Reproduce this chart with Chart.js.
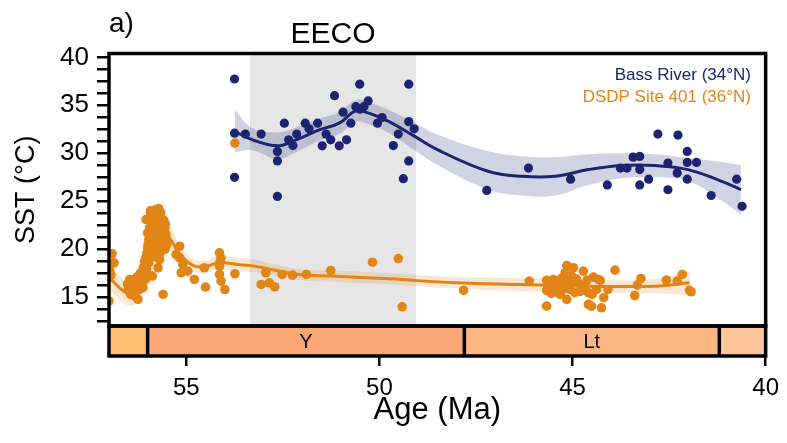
<!DOCTYPE html>
<html>
<head>
<meta charset="utf-8">
<script src="https://cdn.jsdelivr.net/npm/chart.js@4.4.1/dist/chart.umd.min.js"></script>
<style>
  html, body { margin: 0; padding: 0; background: #fff; }
  #wrap { width: 787px; height: 443px; }
</style>
</head>
<body>
<div id="wrap"><canvas id="myChart"></canvas></div>
<script>
// Bass River (34°N) samples
const basAge = [53.75, 53.75, 53.75, 53.47, 53.06, 52.64, 52.64, 52.64, 52.46, 52.35, 52.24, 52.14, 51.92, 51.82, 51.60,
  51.48, 51.38, 51.26, 51.16, 51.04, 50.94, 50.85, 50.74, 50.61, 50.51, 50.51, 50.40, 50.29, 50.05, 49.93, 49.64, 49.51,
  49.24, 49.24, 49.10, 49.24, 49.38, 47.22, 46.14, 45.05, 44.10, 43.76, 43.59, 43.43, 43.26, 43.26, 43.26, 43.03, 42.79,
  42.27, 42.53, 42.53, 42.29, 42.03, 42.03, 42.03, 41.79, 41.41, 40.75, 40.61];
const basSst = [37.74, 32.1, 27.5, 32.0, 32.0, 30.19, 29.2, 25.5, 33.14, 31.4, 30.8, 32.0, 33.14, 32.55, 33.14,
  30.78, 32.0, 31.4, 36.0, 30.78, 34.28, 31.4, 33.14, 34.86, 37.2, 34.6, 34.86, 35.46, 33.14, 33.72, 30.8, 32.0,
  37.2, 33.3, 32.55, 29.2, 27.35, 26.13, 28.46, 27.3, 26.7, 28.46, 28.46, 29.6, 29.67, 28.3, 26.7, 27.3, 32.0,
  31.9, 28.98, 26.2, 27.94, 30.19, 29.05, 27.3, 29.05, 25.6, 27.3, 24.47];

// DSDP Site 401 (36°N) samples
const dsdpAge = [57.0, 56.98, 56.92, 56.87, 56.95,
  56.52, 56.50, 56.48, 56.46, 56.44, 56.42, 56.40, 56.38, 56.36, 56.33, 56.30, 56.28, 56.27, 56.25, 56.24, 56.22,
  56.20, 56.19, 56.18, 56.16, 56.14, 56.12, 56.11, 56.10, 56.09,
  56.08, 56.07, 56.05, 56.03, 56.02, 56.00, 55.99, 55.97, 55.96, 55.95, 55.94, 55.93, 55.92, 55.91, 55.90, 55.89,
  55.88, 55.87, 55.86, 55.85, 55.84, 55.82, 55.81, 55.80, 55.79, 55.78, 55.77, 55.75, 55.74, 55.73, 55.73, 55.72,
  55.71, 55.70, 55.69, 55.68, 55.67, 55.66, 55.65, 55.65, 55.64, 55.62, 55.61, 55.60, 55.58, 55.56, 55.55, 55.53,
  55.52, 55.50, 55.60, 55.88, 55.97, 56.05, 55.80, 55.70, 56.00, 56.04, 55.93, 55.84, 55.76, 55.66, 55.58, 55.54,
  55.17, 55.17, 55.26, 55.09, 55.13, 54.96, 54.79, 54.53, 54.50, 54.14, 54.10, 54.14, 54.14, 54.10, 54.00, 54.12,
  53.74, 53.74, 53.06, 52.94, 52.85, 52.71, 52.52, 52.25, 51.89, 51.26, 50.18, 49.51, 49.41, 47.82, 46.12,
  45.67, 45.67, 45.67, 45.60, 45.55, 45.50, 45.45, 45.42, 45.37, 45.32, 45.28, 45.24, 45.20, 45.19, 45.15, 45.15,
  45.12, 45.06, 45.02, 44.98, 44.98, 44.94, 44.90, 44.85, 44.80, 44.72, 44.68, 44.62, 44.59, 44.59, 44.51, 44.49,
  44.46, 44.38, 44.33, 44.28, 44.25, 44.19, 44.08, 43.90, 43.39, 43.32, 43.23, 42.57, 42.29, 42.16, 41.97, 41.93];
const dsdpSst = [14.6, 17.8, 19.52, 18.58, 17.3,
  16.4, 15.9, 16.3, 16.85, 15.3, 15.63, 16.0, 16.7, 15.2, 16.33, 15.6, 17.1, 16.8, 14.77, 16.1, 15.8,
  16.2, 17.5, 17.0, 17.37, 16.6, 15.99, 18.1, 17.6, 16.9,
  18.75, 18.2, 19.1, 17.89, 19.6, 20.1, 20.49, 21.0, 19.8, 22.22, 21.4, 20.7, 23.78, 22.8, 21.9, 23.2,
  20.2, 22.5, 19.5, 23.6, 21.2, 22.9, 20.6, 23.3, 19.2, 21.8, 22.3, 20.9, 23.0, 21.53, 18.07, 22.7,
  24.23, 20.2, 18.93, 21.9, 23.4, 20.8, 22.57, 19.8, 21.3, 23.1, 20.4, 22.0, 21.0, 22.22, 20.0, 21.6,
  21.18, 20.5, 15.29, 17.2, 18.6, 16.9, 24.1, 19.4, 21.7, 23.1, 24.0, 20.0, 21.1, 23.8, 23.0, 22.6,
  20.31, 19.1, 19.45, 18.41, 17.55, 17.71, 16.85, 18.07, 16.05, 19.63, 19.1, 18.23, 17.37, 16.68, 15.8, 18.7,
  17.44, 31.06, 16.33, 17.55, 16.5, 16.09, 17.37, 17.3, 17.37, 17.79, 18.65, 19.03, 14.0, 15.71, 16.68,
  14.07, 15.71, 16.75, 16.2, 15.4, 16.85, 15.57, 16.5, 16.15, 15.29, 17.0, 16.33, 15.9, 17.55, 14.77, 18.3,
  16.7, 15.81, 17.2, 18.07, 16.5, 15.47, 16.9, 16.5, 15.6, 17.72, 16.15, 16.8, 14.25, 15.47, 14.07, 15.29,
  17.09, 15.81, 16.85, 16.75, 13.9, 14.95, 15.81, 17.82, 15.18, 16.26, 16.95, 16.78, 16.68, 17.37, 15.71, 15.57];

// smoothed fits with confidence band
const basFitAge = [53.74, 53.28, 52.64, 52.16, 51.56, 51.04, 50.61, 50.27, 49.75, 49.15, 48.46, 47.17, 46.31, 45.45,
  44.59, 43.73, 42.87, 42.01, 41.15, 40.64];
const basFit = [32.27, 31.4, 30.78, 31.4, 32.44, 33.14, 34.42, 34.18, 33.3, 31.92, 30.3, 28.1, 27.6, 27.6,
  28.3, 28.73, 28.73, 28.3, 27.1, 26.2];
const basHi = [34.5, 32.6, 32.2, 32.7, 33.6, 34.3, 35.55, 35.3, 34.5, 33.3, 31.9, 30.2, 29.7, 29.6,
  29.9, 30.0, 29.9, 29.5, 29.1, 28.8];
const basLo = [30.1, 30.3, 29.4, 30.1, 31.3, 32.0, 33.3, 33.0, 32.1, 30.5, 28.7, 26.2, 25.6, 25.6,
  26.7, 27.4, 27.5, 27.1, 25.1, 23.6];

const dsdpFitAge = [57.0, 56.46, 56.16, 55.9, 55.69, 55.4, 55.22, 54.87, 54.53, 54.18, 53.67, 53.24, 52.08, 51.22,
  49.75, 48.03, 46.31, 44.59, 42.87, 41.97];
const dsdpFit = [17.03, 15.3, 16.33, 18.75, 21.9, 21.0, 19.8, 18.41, 18.13, 18.6, 18.41, 18.24, 17.37, 17.2,
  16.92, 16.5, 16.33, 16.15, 16.15, 16.5];
const dsdpHi = [18.4, 16.5, 17.6, 20.2, 23.3, 22.3, 20.8, 19.1, 18.8, 19.3, 19.1, 18.9, 17.95, 17.8,
  17.5, 17.1, 17.0, 16.8, 16.9, 17.7];
const dsdpLo = [15.7, 14.1, 15.1, 17.3, 20.5, 19.7, 18.8, 17.7, 17.5, 17.9, 17.7, 17.6, 16.8, 16.6,
  16.35, 15.9, 15.65, 15.5, 15.4, 15.2];

// time scale boxes and EECO interval
const stageEdges = [57, 56, 47.8, 41.2, 40];
const stageNames = ["", "Y", "Lt", ""];
const eeco = [53.35, 49.05];
const xTicks = [55, 50, 45, 40];

const navy = "#1b2470";
const orange = "#e28517";
const stageColors = ["#fdbf72", "#f9a674", "#fbb684", "#fdc598"];
const font = "'Liberation Sans', Arial, sans-serif";

const pts = (a, b) => a.map((v, i) => ({ x: v, y: b[i] }));

const yTicks = [];
for (let v = 12.5; v <= 40; v += 1.25) yTicks.push(v);

const extras = {
  id: "extras",
  beforeDatasetsDraw(chart) {
    const { ctx, chartArea: a, scales: { x } } = chart;
    const x0 = x.getPixelForValue(eeco[0]);
    const x1 = x.getPixelForValue(eeco[1]);
    ctx.save();
    ctx.fillStyle = "#e6e6e6";
    ctx.fillRect(x0, a.top, x1 - x0, a.bottom - a.top);
    ctx.restore();
  },
  afterDraw(chart) {
    const { ctx, chartArea: a, scales: { x } } = chart;
    const top = a.bottom;
    const h = 30;
    ctx.save();
    // time scale bar below the panel
    for (let i = 0; i < stageNames.length; i++) {
      const p0 = x.getPixelForValue(stageEdges[i]);
      const p1 = x.getPixelForValue(stageEdges[i + 1]);
      ctx.fillStyle = stageColors[i];
      ctx.fillRect(p0, top, p1 - p0, h);
      ctx.fillStyle = "#000";
      ctx.font = "20px " + font;
      ctx.textAlign = "center";
      ctx.textBaseline = "middle";
      ctx.fillText(stageNames[i], (p0 + p1) / 2, top + h / 2 + 1);
    }
    ctx.strokeStyle = "#000";
    ctx.lineWidth = 3.5;
    ctx.strokeRect(a.left, top, a.right - a.left, h);
    for (let i = 1; i < stageEdges.length - 1; i++) {
      const p = x.getPixelForValue(stageEdges[i]);
      ctx.beginPath();
      ctx.moveTo(p, top);
      ctx.lineTo(p, top + h);
      ctx.stroke();
    }
    ctx.strokeRect(a.left, a.top, a.right - a.left, a.bottom - a.top);

    // panel letter, EECO label, legend text
    ctx.fillStyle = "#000";
    ctx.textBaseline = "middle";
    ctx.textAlign = "left";
    ctx.font = "28px " + font;
    ctx.fillText("a)", 109, 24);
    ctx.textAlign = "center";
    ctx.font = "30px " + font;
    ctx.fillText("EECO", (x.getPixelForValue(eeco[0]) + x.getPixelForValue(eeco[1])) / 2, 35);
    ctx.textAlign = "right";
    ctx.font = "17px " + font;
    ctx.fillStyle = navy;
    ctx.fillText("Bass River (34°N)", 751, 75);
    ctx.fillStyle = orange;
    ctx.fillText("DSDP Site 401 (36°N)", 751, 97);
    ctx.restore();
  },
};

const ctx = document.getElementById("myChart");
new Chart(ctx, {
  type: "scatter",
  data: {
    datasets: [
      {
        data: pts(basAge, basSst),
        backgroundColor: navy,
        borderWidth: 0,
        pointRadius: 4.6,
      },
      {
        data: pts(dsdpAge, dsdpSst),
        backgroundColor: orange,
        borderWidth: 0,
        pointRadius: 4.8,
      },
      {
        type: "line",
        data: pts(basFitAge, basFit),
        borderColor: navy,
        borderWidth: 3,
        pointRadius: 0,
        tension: 0.4,
        fill: false,
      },
      {
        type: "line",
        data: pts(dsdpFitAge, dsdpFit),
        borderColor: orange,
        borderWidth: 3,
        pointRadius: 0,
        tension: 0.4,
        fill: false,
      },
      {
        type: "line",
        data: pts(basFitAge, basHi),
        borderWidth: 0,
        pointRadius: 0,
        tension: 0.4,
        backgroundColor: "rgba(27,36,112,0.2)",
        fill: "+1",
      },
      {
        type: "line",
        data: pts(basFitAge, basLo),
        borderWidth: 0,
        pointRadius: 0,
        tension: 0.4,
        fill: false,
      },
      {
        type: "line",
        data: pts(dsdpFitAge, dsdpHi),
        borderWidth: 0,
        pointRadius: 0,
        tension: 0.4,
        backgroundColor: "rgba(226,133,23,0.2)",
        fill: "+1",
      },
      {
        type: "line",
        data: pts(dsdpFitAge, dsdpLo),
        borderWidth: 0,
        pointRadius: 0,
        tension: 0.4,
        fill: false,
      },
    ],
  },
  options: {
    responsive: true,
    maintainAspectRatio: false,
    animation: false,
    layout: { padding: { top: 53.5, right: 19, left: 0, bottom: 0 } },
    plugins: {
      legend: { display: false },
      tooltip: { enabled: false },
    },
    scales: {
      x: {
        type: "linear",
        reverse: true,
        min: 40,
        max: 57,
        afterBuildTicks: (s) => { s.ticks = xTicks.map((v) => ({ value: v })); },
        afterFit: (s) => { s.height = 117; },
        grid: { drawOnChartArea: false, tickLength: 40, color: "#000", lineWidth: 2.5 },
        border: { display: false },
        ticks: { color: "#000", font: { family: font, size: 24 }, padding: 8, maxRotation: 0, autoSkip: false },
        title: { display: true, text: "Age (Ma)", color: "#000", font: { family: font, size: 31 }, padding: { top: 4, bottom: 14 } },
      },
      y: {
        min: 12,
        max: 40.4,
        afterBuildTicks: (s) => { s.ticks = yTicks.map((v) => ({ value: v })); },
        afterFit: (s) => { s.width = 109; },
        grid: { drawOnChartArea: false, tickLength: 12, color: "#000", lineWidth: 2.5 },
        border: { display: false },
        ticks: {
          color: "#000",
          font: { family: font, size: 26 },
          padding: 8,
          autoSkip: false,
          callback: (v) => (v % 5 === 0 ? v : ""),
        },
        title: { display: true, text: "SST (°C)", color: "#000", font: { family: font, size: 27 }, padding: { top: 10, bottom: 0 } },
      },
    },
  },
  plugins: [extras],
});
</script>
</body>
</html>
